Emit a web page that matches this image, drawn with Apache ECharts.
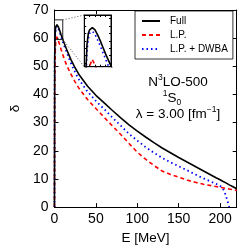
<!DOCTYPE html>
<html>
<head>
<meta charset="utf-8">
<script src="https://cdn.jsdelivr.net/npm/echarts@6/dist/echarts.min.js"></script>
<style>
html,body{margin:0;padding:0;background:#fff;}
#c{width:241px;height:250px;}
</style>
</head>
<body>
<div id="c"></div>
<script>
// ---- data ----
const energies = [0, 0.25, 0.5, 1, 1.5, 2, 3, 4, 5, 6, 7, 8, 9, 10, 12, 15, 20, 25, 30, 40, 50, 60, 70, 80, 90, 100, 110, 120, 130, 140, 150, 160, 170, 180, 190, 195, 200, 203, 205, 207, 209, 211, 215, 220];
const full  = [0, 52, 58, 62.5, 64, 64.5, 64.8, 64.5, 63.8, 63.0, 62.1, 61.2, 60.4, 59.6, 58.0, 55.8, 52.3, 49.4, 46.9, 42.9, 39.7, 37.0, 34.3, 31.7, 29.2, 27.0, 24.9, 22.9, 21.0, 19.3, 17.6, 16.0, 14.4, 12.8, 11.2, 10.4, 9.7, 9.2, 8.9, 8.6, 8.2, 7.9, 7.3, 6.5];
const lp    = [0, 42, 49, 55.5, 58.3, 59.6, 60.5, 59.7, 58.8, 57.9, 57.0, 56.0, 55.1, 54.2, 52.4, 50.2, 47.1, 44.4, 42.0, 38.2, 35.0, 31.9, 28.8, 25.8, 22.6, 19.5, 17.0, 14.8, 12.8, 11.6, 10.6, 9.6, 8.8, 8.1, 7.6, 7.3, 7.0, 6.9, 6.8, 6.6, 6.5, 6.4, 6.2, 5.9];
const dwba  = [0, 50, 56.5, 61.5, 63.3, 64.0, 64.3, 63.9, 63.1, 62.3, 61.4, 60.5, 59.6, 58.8, 57.1, 54.8, 51.0, 47.8, 45.1, 41.0, 37.7, 34.8, 31.8, 28.9, 26.0, 23.6, 21.3, 19.3, 17.5, 15.9, 14.5, 13.1, 11.6, 10.2, 8.9, 8.3, 7.5, 6.8, 5.6, 4.0, 2.0, 0, null, null];
const seriesNames = ['Full', 'L.P.', 'L.P. + DWBA'];
const xTicks = [0, 50, 100, 150, 200];
const yTicks = [0, 10, 20, 30, 40, 50, 60, 70];
const zoomE = [0, 10];      // inset energy window
const zoomD = [59.5, 66.5]; // inset phase window

const pairs = arr => energies.map((e, i) => [e, arr[i]]);
const FONT = '"Liberation Sans", Arial, sans-serif';

const styles = [
  {color: '#000000', type: 'solid', width: 1.6},
  {color: '#ff0000', type: [4, 3], width: 1.6},
  {color: '#0000ff', type: [1.5, 3], width: 1.8}
];
const dataSets = [full, lp, dwba];

const chart = echarts.init(document.getElementById('c'), null, {renderer: 'canvas'});

function ax(extra) {
  return Object.assign({
    axisLine: {show: true, onZero: false, lineStyle: {color: '#000', width: 1}},
    axisTick: {show: true, inside: true, length: 4, lineStyle: {color: '#000', width: 1}},
    splitLine: {show: false},
    axisLabel: {show: false}
  }, extra);
}
const insetTick = {show: true, inside: true, length: 2, lineStyle: {color: '#000', width: 1}};

const series = [];
dataSets.forEach((d, i) => {
  series.push({
    name: seriesNames[i], type: 'line', xAxisIndex: 0, yAxisIndex: 0,
    data: pairs(d), showSymbol: false, symbol: 'none',
    lineStyle: styles[i], itemStyle: {color: styles[i].color}, z: 5 - i,
    clip: true, animation: false,
    markArea: i === 0 ? {
      silent: true,
      itemStyle: {color: 'rgba(0,0,0,0)', borderColor: '#222', borderWidth: 1},
      data: [[{coord: [zoomE[0], zoomD[1]]}, {coord: [zoomE[1], zoomD[0]]}]]
    } : undefined
  });
});
dataSets.forEach((d, i) => {
  series.push({
    name: seriesNames[i], type: 'line', xAxisIndex: 2, yAxisIndex: 2,
    data: pairs(d), showSymbol: false, symbol: 'none',
    lineStyle: Object.assign({}, styles[i], {width: 1.6}), itemStyle: {color: styles[i].color},
    clip: true, animation: false, z: 25 - i
  });
});

chart.setOption({
  animation: false,
  backgroundColor: '#fff',
  textStyle: {fontFamily: FONT},
  grid: [
    {left: 40, top: 10, right: 4.3, bottom: 38, containLabel: false},
    {left: 84.3, top: 15, width: 26.7, height: 51.7, containLabel: false, show: true, backgroundColor: '#fff', borderColor: '#000', borderWidth: 1, z: 10}
  ],
  xAxis: [
    ax({type: 'value', gridIndex: 0, position: 'bottom', min: 0, max: 220, interval: 50,
        axisLabel: {show: true, color: '#000', fontSize: 14, margin: 5, fontFamily: FONT},
        name: 'E [MeV]', nameLocation: 'middle', nameGap: 19,
        nameTextStyle: {color: '#000', fontSize: 13.5, fontFamily: FONT}}),
    ax({type: 'value', gridIndex: 0, position: 'top', min: 0, max: 220, interval: 50}),
    ax({type: 'value', gridIndex: 1, position: 'bottom', min: zoomE[0], max: zoomE[1], interval: 2, axisTick: insetTick, z: 30}),
    ax({type: 'value', gridIndex: 1, position: 'top', min: zoomE[0], max: zoomE[1], interval: 2, axisTick: insetTick, z: 30})
  ],
  yAxis: [
    ax({type: 'value', gridIndex: 0, position: 'left', min: 0, max: 70, interval: 10,
        axisLabel: {show: true, color: '#000', fontSize: 14, margin: 6, fontFamily: FONT},
        name: 'δ', nameLocation: 'middle', nameGap: 32, nameRotate: 90,
        nameTextStyle: {color: '#000', fontSize: 13.5, fontFamily: FONT}}),
    ax({type: 'value', gridIndex: 0, position: 'right', min: 0, max: 70, interval: 10}),
    ax({type: 'value', gridIndex: 1, position: 'left', min: zoomD[0], max: zoomD[1], splitNumber: 6, axisTick: insetTick, z: 30}),
    ax({type: 'value', gridIndex: 1, position: 'right', min: zoomD[0], max: zoomD[1], splitNumber: 6, axisTick: insetTick, z: 30})
  ],
  legend: {
    data: seriesNames,
    orient: 'vertical', left: 135, top: 11,
    itemWidth: 18, itemHeight: 10, itemGap: 4,
    padding: [5, 5, 5, 6],
    backgroundColor: '#fff', borderColor: '#000', borderWidth: 0.8,
    itemStyle: {opacity: 0},
    textStyle: {fontSize: 10, color: '#000', fontFamily: FONT, padding: [0, 0, 0, 5]},
    selectedMode: false
  },
  series: series
});

// connector lines between the zoom box and the inset, positioned through the axes
const a1 = chart.convertToPixel({xAxisIndex: 0, yAxisIndex: 0}, [zoomE[1], zoomD[1]]);
const a2 = chart.convertToPixel({xAxisIndex: 0, yAxisIndex: 0}, [zoomE[1], zoomD[0]]);
const b1 = chart.convertToPixel({xAxisIndex: 2, yAxisIndex: 2}, [zoomE[0], zoomD[1]]);
const b2 = chart.convertToPixel({xAxisIndex: 2, yAxisIndex: 2}, [zoomE[0], zoomD[0]]);

const cx = 178;
chart.setOption({
  graphic: [
    {type: 'line', shape: {x1: a1[0], y1: a1[1], x2: b1[0], y2: b1[1]}, style: {stroke: '#555', lineWidth: 1, lineDash: [1, 2]}, z: 20},
    {type: 'line', shape: {x1: a2[0], y1: a2[1], x2: b2[0], y2: b2[1]}, style: {stroke: '#555', lineWidth: 1, lineDash: [1, 2]}, z: 20},
    {type: 'text', x: cx, y: 82, z: 20, style: {
      text: '{a|N}{s|3}{a|LO-500}', align: 'center', verticalAlign: 'middle',
      rich: {a: {fontSize: 13.5, fontFamily: FONT, fill: '#000', lineHeight: 18, verticalAlign: 'middle'},
             s: {fontSize: 8.5, fontFamily: FONT, fill: '#000', lineHeight: 18, verticalAlign: 'top'}}
    }},
    {type: 'text', x: cx - 6, y: 98, z: 20, style: {
      text: '{s|1}{a|S}{b|0}', align: 'center', verticalAlign: 'middle',
      rich: {a: {fontSize: 13.5, fontFamily: FONT, fill: '#000', lineHeight: 18, verticalAlign: 'middle'},
             s: {fontSize: 8.5, fontFamily: FONT, fill: '#000', lineHeight: 18, verticalAlign: 'top'},
             b: {fontSize: 8.5, fontFamily: FONT, fill: '#000', lineHeight: 18, verticalAlign: 'bottom'}}
    }},
    {type: 'text', x: cx, y: 114, z: 20, style: {
      text: '{a|λ = 3.00 [fm}{s|−1}{a|]}', align: 'center', verticalAlign: 'middle',
      rich: {a: {fontSize: 13.5, fontFamily: FONT, fill: '#000', lineHeight: 18, verticalAlign: 'middle'},
             s: {fontSize: 8.5, fontFamily: FONT, fill: '#000', lineHeight: 18, verticalAlign: 'top'}}
    }}
  ]
});
</script>
</body>
</html>
